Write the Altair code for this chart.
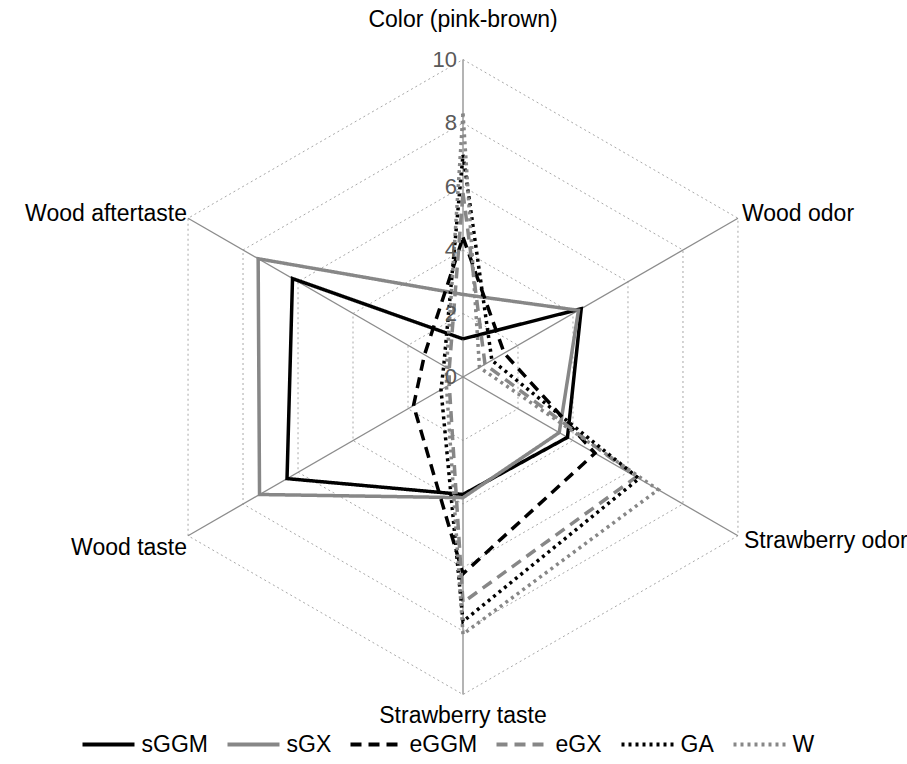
import math
import altair as alt
import pandas as pd

categories = ["Color (pink-brown)", "Wood odor", "Strawberry odor",
              "Strawberry taste", "Wood taste", "Wood aftertaste"]
series_names = ["sGGM", "sGX", "eGGM", "eGX", "GA", "W"]
sGGM = [1.2, 4.3, 3.8, 3.7, 6.4, 6.2]
sGX = [2.6, 4.2, 3.5, 3.8, 7.4, 7.45]
eGGM = [4.4, 1.5, 4.8, 6.2, 1.8, 1.4]
eGX = [5.8, 0.8, 6.3, 7.1, 0.5, 0.5]
GA = [7.0, 1.05, 6.4, 7.7, 0.8, 0.7]
W = [8.3, 0.6, 7.1, 8.1, 0.6, 0.6]
tick_values = [0, 2, 4, 6, 8, 10]
grid_levels = [2, 4, 6, 8, 10]
r_max = 10

n = len(categories)
series_values = [sGGM, sGX, eGGM, eGX, GA, W]

rows = []
for name, vals in zip(series_names, series_values):
    for k in range(n + 1):
        rows.append({"series": name, "idx": k, "value": vals[k % n]})
df_lines = pd.DataFrame(rows)

grid_rows = []
for lv in grid_levels:
    for k in range(n + 1):
        grid_rows.append({"level": lv, "idx": k, "value": lv})
df_grid = pd.DataFrame(grid_rows)

df_cat = pd.DataFrame({"category": categories, "idx": list(range(n)), "value": [r_max] * n})
df_ticks = pd.DataFrame({"tick": tick_values, "label": [str(t) for t in tick_values]})

theta = f"PI/2 - datum.idx*2*PI/{n}"

def polar(ch):
    return ch.transform_calculate(
        px=f"datum.value*cos({theta})", py=f"datum.value*sin({theta})"
    )

xs = alt.Scale(domain=[-r_max, r_max])
ys = alt.Scale(domain=[-r_max, r_max])
X = alt.X("px:Q", scale=xs, axis=None)
Y = alt.Y("py:Q", scale=ys, axis=None)

FONT = "Liberation Sans"
FS = 23

grid = polar(alt.Chart(df_grid)).mark_line(
    stroke="#a8a8a8", strokeWidth=1, strokeDash=[2, 3]
).encode(x=X, y=Y, detail="level:N", order="idx:Q")

spokes = alt.Chart(df_cat).transform_calculate(
    px="0", py="0",
    px2=f"datum.value*cos({theta})", py2=f"datum.value*sin({theta})"
).mark_rule(stroke="#8c8c8c", strokeWidth=1.3).encode(
    x=X, y=Y, x2="px2:Q", y2="py2:Q"
)

ticks = alt.Chart(df_ticks).transform_calculate(px="0", py="datum.tick").mark_text(
    align="right", baseline="middle", dx=-6, fontSize=22, font=FONT, color="#595959"
).encode(x=X, y=Y, text="label:N")

legend = alt.Legend(
    orient="none", legendX=-65, legendY=657, direction="horizontal", columns=6,
    gridAlign="each",
    title=None, symbolType="stroke", symbolSize=2704, symbolStrokeWidth=4,
    labelFontSize=FS, labelFont=FONT, labelColor="#000000",
    columnPadding=11, labelOffset=5
)
color_scale = alt.Scale(domain=series_names,
                        range=["#000000", "#878787", "#000000", "#878787", "#000000", "#878787"])
dash_scale = alt.Scale(domain=series_names,
                       range=[[1, 0], [1, 0], [11, 7], [11, 7], [3, 4], [3, 4]])

lines = polar(alt.Chart(df_lines)).mark_line(
    strokeWidth=3.5, strokeJoin="miter"
).encode(
    x=X, y=Y,
    color=alt.Color("series:N", scale=color_scale, legend=legend),
    strokeDash=alt.StrokeDash("series:N", scale=dash_scale, legend=legend),
    order="idx:Q",
)

lab_base = polar(alt.Chart(df_cat))

def cat_label(i, **kw):
    return lab_base.transform_filter(f"datum.idx == {i}").mark_text(
        fontSize=FS, font=FONT, color="#000000", **kw
    ).encode(x=X, y=Y, text="category:N")

labels = [
    cat_label(0, baseline="bottom", dy=-28),
    cat_label(1, align="left", baseline="middle", dx=4, dy=-4),
    cat_label(2, align="left", baseline="middle", dx=6, dy=5),
    cat_label(3, baseline="top", dy=10),
    cat_label(4, align="right", baseline="middle", dx=-1, dy=12),
    cat_label(5, align="right", baseline="middle", dx=-1, dy=-4),
]

chart = alt.layer(grid, spokes, lines, ticks, *labels).properties(
    width=635, height=635,
    autosize=alt.AutoSizeParams(type="none"),
    padding={"left": 145.5, "top": 59.5, "right": 126.5, "bottom": 69.5},
    background="white",
).configure_view(stroke=None)

chart.save("out.html", embed_options={"renderer": "svg", "actions": False})
